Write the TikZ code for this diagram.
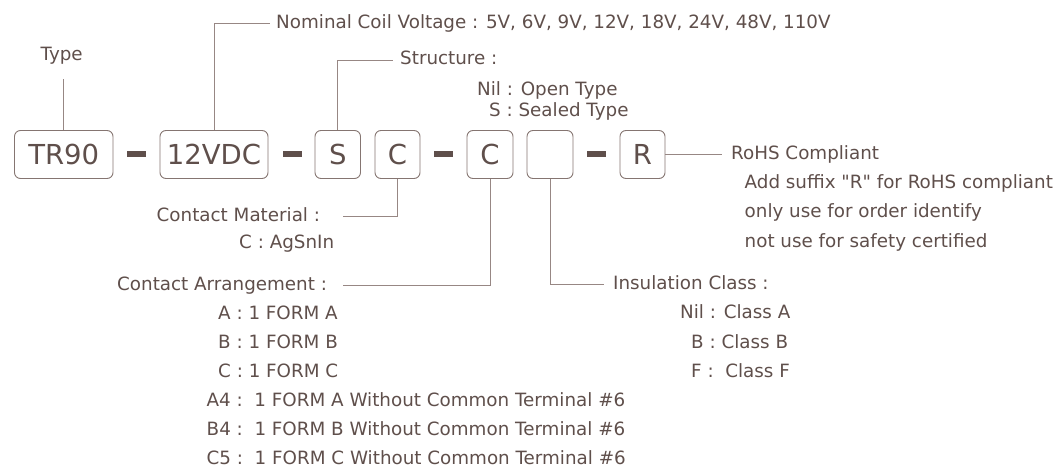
\documentclass[tikz,border=0pt]{standalone}
\usepackage{fontspec}
\setmainfont{DejaVu Sans}
\tikzset{>=stealth}
\definecolor{ink}{HTML}{5F4F4B}
\definecolor{rule}{HTML}{978784}
\definecolor{frame}{HTML}{857571}
\tikzset{
  part/.style={draw=frame, line width=0.9pt, rounded corners=6pt, inner sep=0pt,
    minimum height=48pt, text height=20pt, text depth=0pt,
    font=\fontsize{27.5}{30}\selectfont, text=ink},
  lbl/.style={anchor=base west, inner sep=0pt, text height=13.5pt, text depth=4pt,
    font=\fontsize{18.3}{22}\selectfont, text=ink},
  lead/.style={draw=rule, line width=0.9pt},
  hyph/.style={fill=ink, inner sep=0pt, minimum width=19pt, minimum height=6pt}
}
\begin{document}
\begin{tikzpicture}[x=1pt, y=-1pt]
    \useasboundingbox (0,0) rectangle (1062,473);
    \node[part, minimum width=98.5pt] (tr) at (63.75,154.5) {TR90};
    \node[part, minimum width=108pt] (volt) at (214,154.5) {12VDC};
    \node[part, minimum width=45.5pt] (struct) at (337.75,154.5) {S};
    \node[part, minimum width=45pt] (mat) at (397.5,154.5) {C};
    \node[part, minimum width=46pt] (arr) at (490,154.5) {C};
    \node[part, minimum width=46pt] (ins) at (550,154.5) {};
    \node[part, minimum width=45pt] (rohs) at (642.5,154.5) {R};
    \node[hyph] (h1) at (136.5,154) {};
    \node[hyph] (h2) at (292,154) {};
    \node[hyph] (h3) at (443.5,154) {};
    \node[hyph] (h4) at (596.5,154) {};

    \node[lbl] (typ) at (40.5,61) {Type};
    \node[lbl] (nom) at (276,28.5) {Nominal Coil Voltage : 5V, 6V, 9V, 12V, 18V, 24V, 48V, 110V};
    \node[lbl] (strl) at (400,65) {Structure :};
    \node[lbl] (str1) at (477,95.5) {Nil : Open Type};
    \node[lbl] (str2) at (489,117) {S : Sealed Type};
    \node[lbl] (rohsl) at (731,160) {RoHS Compliant};
    \node[lbl] (rohs1) at (744.5,189) {Add suffix \textquotedbl R\textquotedbl{} for RoHS compliant};
    \node[lbl] (rohs2) at (744.5,218) {only use for order identify};
    \node[lbl] (rohs3) at (744.5,247) {not use for safety certified};
    \node[lbl] (cmat) at (156.5,221) {Contact Material :};
    \node[lbl] (cmat1) at (239,248.5) {C : AgSnIn};
    \node[lbl] (carr) at (117,290) {Contact Arrangement :};
    \node[lbl] (carr1) at (218,319) {A : 1 FORM A};
    \node[lbl] (carr2) at (218,348) {B : 1 FORM B};
    \node[lbl] (carr3) at (218,377) {C : 1 FORM C};
    \node[lbl] (carr4) at (206.5,406) {A4 :\ \ 1 FORM A Without Common Terminal \#6};
    \node[lbl] (carr5) at (206.5,435) {B4 :\ \ 1 FORM B Without Common Terminal \#6};
    \node[lbl] (carr6) at (206.5,464) {C5 :\ \ 1 FORM C Without Common Terminal \#6};
    \node[lbl] (insl) at (613,289.5) {Insulation Class :};
    \node[lbl] (ins1) at (680,318.5) {Nil : Class A};
    \node[lbl] (ins2) at (691,348) {B : Class B};
    \node[lbl] (ins3) at (691,377) {F :\ \ Class F};

    \draw[lead, shorten >=14pt] (tr.north) -- (typ.south -| tr.north);
    \draw[lead, shorten >=6pt] (volt.north) |- (nom.west);
    \draw[lead, shorten >=7pt] (struct.north) |- (strl.west);
    \draw[lead, shorten >=22.5pt] (mat.south) |- (cmat.east);
    \draw[lead, shorten >=16pt] (arr.south) |- (carr.east);
    \draw[lead, shorten >=9pt] (ins.south) |- (insl.west);
    \draw[lead, shorten >=9pt] (rohs.east) -- (rohs.east -| rohsl.west);
\end{tikzpicture}
\end{document}
